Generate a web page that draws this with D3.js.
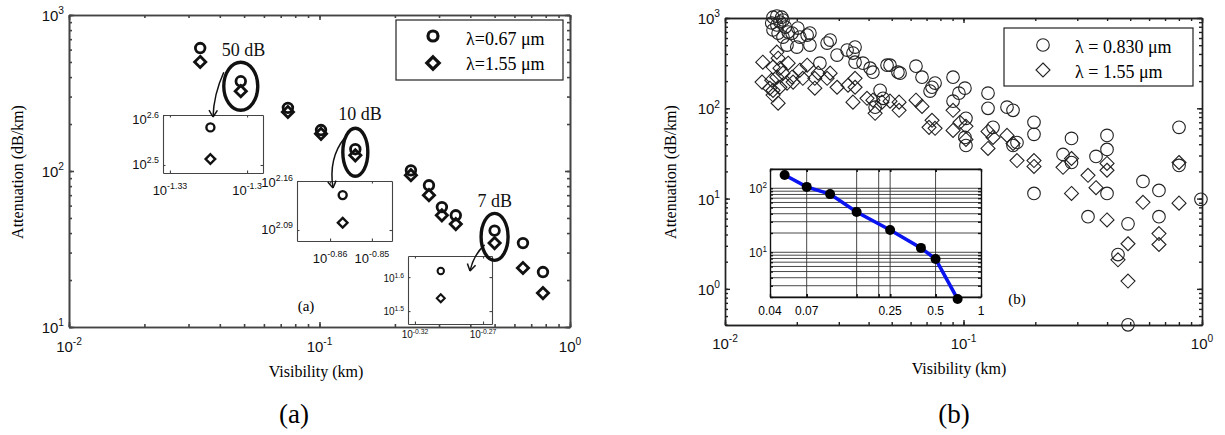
<!DOCTYPE html>
<html lang="en">
<head>
<meta charset="UTF-8">
<title>Attenuation vs visibility</title>
<script src="https://d3js.org/d3.v7.min.js"></script>
<style>
body { margin: 0; background: #fff; }
</style>
</head>
<body>
<div id="chart"></div>
<script>
// ---- panel (a): paired measurements, 0.67 um and 1.55 um
var visA    = [0.0334, 0.0485, 0.0748, 0.1014, 0.139, 0.2317, 0.2735, 0.308, 0.35, 0.5, 0.649, 0.78];
var att067A = [614, 376, 254, 183, 138, 101, 81, 58.7, 52, 41.5, 34.5, 22.5];
var att155A = [500, 325, 239, 173, 126, 94, 70, 52, 45.7, 34.5, 23.9, 16.5];
var calloutIdx   = [1, 4, 9];
var calloutLabel = ["50 dB", "10 dB", "7 dB"];

// ---- panel (b): scattered measurements [visibility km, attenuation dB/km]
var att830B = [
  [0.0159,1020],[0.0165,1050],[0.0173,1020],[0.0175,950],[0.0157,880],[0.0165,836],[0.0170,903],
  [0.0179,794],[0.0159,736],[0.0167,681],[0.0184,699],[0.0191,681],[0.0175,615],[0.0202,774],
  [0.0206,615],[0.0221,647],[0.0227,681],[0.0182,501],[0.0200,476],[0.0227,501],[0.0268,527],
  [0.0276,569],[0.0295,388],[0.0325,441],[0.0351,476],[0.0344,409],[0.0351,324],[0.0379,316],
  [0.0406,278],[0.0417,251],[0.0478,300],[0.025,316],[0.0447,158],[0.046,129],[0.0426,103],
  [0.0492,300],[0.0531,251],[0.0542,245],[0.0632,293],[0.067,221],[0.076,190],[0.0738,171],
  [0.0724,155],[0.0904,221],[0.1014,167],[0.0957,147],[0.0904,120],[0.1267,147],[0.1267,100],
  [0.1522,103],[0.1613,95],[0.1024,77.4],[0.1014,47.6],[0.1024,38.7],[0.133,61.5],[0.1676,41.8],
  [0.1613,38.7],[0.1975,70],[0.1975,51.5],[0.2837,46.4],[0.2614,30.8],[0.2837,25.1],[0.3594,29.3],
  [0.3997,50.1],[0.3997,35],[0.3997,11.4],[0.5656,15.5],[0.66,12.3],[0.801,61.5],[0.801,23.3],
  [0.99,9.8],[0.1975,11.4],[0.3327,6.3],[0.4895,5.25],[0.66,6.3],[0.4444,2.4],[0.4895,0.40]
];
var att155B = [
  [0.0144,324],[0.0165,419],[0.0167,359],[0.0159,286],[0.0170,278],[0.0175,245],[0.0165,221],
  [0.0157,205],[0.0143,195],[0.0159,158],[0.0170,171],[0.0182,190],[0.0191,221],[0.0184,316],
  [0.0159,140],[0.0167,114],[0.0206,264],[0.0221,300],[0.0212,215],[0.0238,215],[0.0238,167],
  [0.0268,215],[0.0276,245],[0.0295,171],[0.0328,180],[0.0351,215],[0.0351,171],[0.0394,129],
  [0.0417,123],[0.0344,117],[0.0426,88],[0.0154,167],[0.0193,195],[0.0246,245],[0.0455,117],
  [0.0492,120],[0.0537,117],[0.0537,95],[0.0632,123],[0.067,105],[0.0738,73.6],[0.0717,61.5],
  [0.076,60],[0.0904,95],[0.0967,70],[0.0904,56.9],[0.1024,63.1],[0.1024,45.2],[0.1267,55.5],
  [0.133,47.6],[0.1267,35.9],[0.1522,50.1],[0.1613,40.8],[0.1676,26.4],[0.1975,26.4],[0.1975,22.7],
  [0.2614,22.2],[0.2837,27.8],[0.2837,11.4],[0.3327,18.1],[0.3594,13.2],[0.3997,24.5],[0.3997,20.6],
  [0.5656,9.1],[0.801,25.1],[0.801,8.9],[0.3997,5.8],[0.4895,3.16],[0.4444,2.1],[0.4895,1.22],
  [0.66,4.1],[0.66,3.1]
];

// ---- inset of panel (b)
var insetVis = [0.05, 0.07, 0.1, 0.15, 0.25, 0.4, 0.5, 0.7];
var insetAtt = [161, 105, 81, 42.6, 22.3, 11.7, 7.85, 1.86];
var insetGridX = [0.07, 0.15, 0.21, 0.25, 0.5];
var insetTickX = [0.04, 0.07, 0.25, 0.5, 1];
var insetTickLabelX = ["0.04", "0.07", "0.25", "0.5", "1"];

var SANS = "'Liberation Sans', Arial, Helvetica, sans-serif";
var SERIF = "'Liberation Serif', 'Times New Roman', Times, serif";

var svg = d3.select("#chart").append("svg")
    .attr("width", 1225).attr("height", 435)
    .style("background", "#fff");

function logMinor(lo, hi) {
  var out = [];
  for (var e = Math.floor(Math.log10(lo)); e <= Math.ceil(Math.log10(hi)); e++) {
    for (var k = 1; k <= 9; k++) {
      var v = k * Math.pow(10, e);
      if (v >= lo * 0.999 && v <= hi * 1.001) out.push(v);
    }
  }
  return out;
}
function decades(lo, hi) {
  return logMinor(lo, hi).filter(function(v) { return Math.abs(Math.log10(v) - Math.round(Math.log10(v))) < 1e-6; });
}

// "10" with a raised exponent
function powText(g, x, y, exp, fs, anchor) {
  var t = g.append("text").attr("x", x).attr("y", y)
      .attr("text-anchor", anchor).attr("font-family", SANS)
      .attr("font-size", fs).attr("fill", "#111");
  t.append("tspan").text("10");
  t.append("tspan").attr("dy", -fs * 0.45).attr("font-size", fs * 0.68).text(exp);
  return t;
}

// box with inward ticks on all four sides
function frame(g, x, y, xt, yt, len, color, width) {
  var x0 = x.range()[0], x1 = x.range()[1], y0 = y.range()[0], y1 = y.range()[1];
  var sides = [
    [d3.axisBottom(x).tickValues(xt), "translate(0," + y0 + ")"],
    [d3.axisTop(x).tickValues(xt), "translate(0," + y1 + ")"],
    [d3.axisLeft(y).tickValues(yt), "translate(" + x0 + ",0)"],
    [d3.axisRight(y).tickValues(yt), "translate(" + x1 + ",0)"]
  ];
  sides.forEach(function(s) {
    var a = g.append("g").attr("transform", s[1])
      .call(s[0].tickSize(-len).tickSizeOuter(0).tickFormat(""));
    a.selectAll("path,line").attr("stroke", color).attr("stroke-width", width);
  });
}

function diamond(r) {
  return "M0," + (-r) + "L" + r + ",0L0," + r + "L" + (-r) + ",0Z";
}

// ================= panel (a) =================
var xa = d3.scaleLog().domain([0.01, 1]).range([69, 570]);
var ya = d3.scaleLog().domain([10, 1000]).range([327, 15]);
var ga = svg.append("g");

frame(ga, xa, ya, logMinor(0.01, 1), logMinor(10, 1000), 3, "#444", 1.6);
frame(ga, xa, ya, decades(0.01, 1), decades(10, 1000), 5, "#444", 1.6);

decades(10, 1000).forEach(function(v) {
  powText(ga, 64, ya(v) + 6, Math.round(Math.log10(v)), 15, "end");
});
decades(0.01, 1).forEach(function(v) {
  powText(ga, xa(v), 352, Math.round(Math.log10(v)), 15, "middle");
});

ga.append("text").attr("transform", "translate(23,172) rotate(-90)")
  .attr("text-anchor", "middle").attr("font-family", SERIF).attr("font-size", 16)
  .text("Attenuation (dB/km)");
ga.append("text").attr("x", 316).attr("y", 377).attr("text-anchor", "middle")
  .attr("font-family", SERIF).attr("font-size", 16).text("Visibility (km)");
ga.append("text").attr("x", 306).attr("y", 311).attr("text-anchor", "middle")
  .attr("font-family", SERIF).attr("font-size", 15).text("(a)");

// markers
ga.selectAll(".c067").data(visA).enter().append("circle")
  .attr("cx", function(d) { return xa(d); })
  .attr("cy", function(d, i) { return ya(att067A[i]); })
  .attr("r", 4.8).attr("fill", "none").attr("stroke", "#111").attr("stroke-width", 2.8);
ga.selectAll(".d155").data(visA).enter().append("path")
  .attr("transform", function(d, i) { return "translate(" + xa(d) + "," + ya(att155A[i]) + ")"; })
  .attr("d", diamond(5.6)).attr("fill", "none").attr("stroke", "#111").attr("stroke-width", 2.8);

// callout ellipses, labels, arrows and zoomed insets
var insets = [
  { box: [163, 115, 263, 173], xd: [-1.3327, -1.2938], yd: [2.484, 2.6], xt: [-1.33, -1.3], yt: [2.5, 2.6],
    fs: 13, xlab: 22, ylabDy: [4, 9], rx: 17, ry: 24, r: 4, sw: 2.4,
    arrow: [[-17, -14], [-10, 22], [213, 117]], lab: [-19, -26] },
  { box: [297, 181, 392, 241], xd: [-0.8679, -0.8452], yd: [2.0743, 2.16], xt: [-0.86, -0.85], yt: [2.09, 2.16],
    fs: 13, xlab: 22, ylabDy: [4, 6], rx: 12.5, ry: 24, r: 4, sw: 2.4,
    arrow: [[-11, -14], [-16, 20], [333, 188]], lab: [-17, -28] },
  { box: [408, 256, 492, 324], xd: [-0.3251, -0.2634], yd: [1.462, 1.662], xt: [-0.32, -0.27], yt: [1.5, 1.6],
    fs: 10, xlab: 14, ylabDy: [4, 5], rx: 13.5, ry: 23.5, r: 3.2, sw: 2,
    arrow: [[-10, 8], [-11, 10], [470, 271]], lab: [-17, -26] }
];

// insets first, so the callout arrows end on top of them
calloutIdx.forEach(function(idx, k) {
  var c = insets[k];
  var b = c.box;
  var xs = d3.scaleLinear().domain(c.xd).range([b[0], b[2]]);
  var ys = d3.scaleLinear().domain(c.yd).range([b[3], b[1]]);
  var gi = ga.append("g");
  gi.append("rect").attr("x", b[0]).attr("y", b[1]).attr("width", b[2] - b[0]).attr("height", b[3] - b[1])
    .attr("fill", "#fff");
  frame(gi, xs, ys, c.xt, c.yt, 2.5, "#444", 1.1);
  c.yt.forEach(function(v, j) {
    powText(gi, b[0] - 4, ys(v) + c.ylabDy[j], String(v), c.fs, "end");
  });
  c.xt.forEach(function(v) {
    powText(gi, xs(v), b[3] + c.xlab, String(v), c.fs, "middle");
  });
  gi.append("circle").attr("cx", xs(Math.log10(visA[idx]))).attr("cy", ys(Math.log10(att067A[idx])))
    .attr("r", c.r).attr("fill", "none").attr("stroke", "#111").attr("stroke-width", c.sw);
  gi.append("path")
    .attr("transform", "translate(" + xs(Math.log10(visA[idx])) + "," + ys(Math.log10(att155A[idx])) + ")")
    .attr("d", diamond(c.r + 0.8)).attr("fill", "none").attr("stroke", "#111").attr("stroke-width", c.sw);
});

calloutIdx.forEach(function(idx, k) {
  var c = insets[k];
  var cx = xa(visA[idx]);
  var cy = (ya(att067A[idx]) + ya(att155A[idx])) / 2;
  ga.append("ellipse").attr("cx", cx).attr("cy", cy).attr("rx", c.rx).attr("ry", c.ry)
    .attr("fill", "none").attr("stroke", "#111").attr("stroke-width", 3.4);
  ga.append("text").attr("x", cx + c.lab[0]).attr("y", cy + c.lab[1] - c.ry + 20)
    .attr("font-family", SERIF).attr("font-size", 18).attr("fill", "#111").text(calloutLabel[k]);

  var sx = cx + c.arrow[0][0], sy = cy + c.arrow[0][1];
  var ex = c.arrow[2][0], ey = c.arrow[2][1];
  var qx = sx + c.arrow[1][0], qy = sy + c.arrow[1][1];
  ga.append("path").attr("d", "M" + sx + "," + sy + "Q" + qx + "," + qy + " " + ex + "," + ey)
    .attr("fill", "none").attr("stroke", "#111").attr("stroke-width", 1.5);
  var ang = Math.atan2(ey - qy, ex - qx);
  [0.55, -0.55].forEach(function(da) {
    ga.append("line").attr("x1", ex).attr("y1", ey)
      .attr("x2", ex - 8 * Math.cos(ang + da)).attr("y2", ey - 8 * Math.sin(ang + da))
      .attr("stroke", "#111").attr("stroke-width", 1.5);
  });
});

// legend (a)
var la = ga.append("g");
la.append("rect").attr("x", 396).attr("y", 20).attr("width", 167).attr("height", 60)
  .attr("fill", "#fff").attr("stroke", "#222").attr("stroke-width", 1.2);
la.append("circle").attr("cx", 433).attr("cy", 36).attr("r", 5)
  .attr("fill", "none").attr("stroke", "#111").attr("stroke-width", 3.2);
la.append("path").attr("transform", "translate(433,63)").attr("d", diamond(6.2))
  .attr("fill", "none").attr("stroke", "#111").attr("stroke-width", 3.2);
la.append("text").attr("x", 466).attr("y", 45).attr("font-family", SERIF).attr("font-size", 18).text("λ=0.67 μm");
la.append("text").attr("x", 466).attr("y", 70).attr("font-family", SERIF).attr("font-size", 18).text("λ=1.55 μm");

// ================= panel (b) =================
var xb = d3.scaleLog().domain([0.01, 1]).range([725, 1202]);
var yb = d3.scaleLog().domain([0.398, 1000]).range([325, 18]);
var gb = svg.append("g");

frame(gb, xb, yb, logMinor(0.01, 1), logMinor(0.398, 1000), 3, "#222", 1.4);
frame(gb, xb, yb, decades(0.01, 1), decades(0.398, 1000), 5, "#222", 1.4);

decades(0.398, 1000).forEach(function(v) {
  powText(gb, 720, yb(v) + 6, Math.round(Math.log10(v)), 15, "end");
});
decades(0.01, 1).forEach(function(v) {
  powText(gb, xb(v), 349, Math.round(Math.log10(v)), 15, "middle");
});
gb.append("text").attr("transform", "translate(676,172) rotate(-90)")
  .attr("text-anchor", "middle").attr("font-family", SERIF).attr("font-size", 16)
  .text("Attenuation (dB/km)");
gb.append("text").attr("x", 959).attr("y", 374).attr("text-anchor", "middle")
  .attr("font-family", SERIF).attr("font-size", 16).text("Visibility (km)");
gb.append("text").attr("x", 1017).attr("y", 304).attr("text-anchor", "middle")
  .attr("font-family", SERIF).attr("font-size", 15).text("(b)");

gb.selectAll(".bc").data(att830B).enter().append("circle")
  .attr("cx", function(d) { return xb(d[0]); })
  .attr("cy", function(d) { return yb(d[1]); })
  .attr("r", 6.3).attr("fill", "none").attr("stroke", "#222").attr("stroke-width", 1.1);
gb.selectAll(".bd").data(att155B).enter().append("path")
  .attr("transform", function(d) { return "translate(" + xb(d[0]) + "," + yb(d[1]) + ")"; })
  .attr("d", diamond(7)).attr("fill", "none").attr("stroke", "#222").attr("stroke-width", 1.1);

// legend (b)
var lb = gb.append("g");
lb.append("rect").attr("x", 1004).attr("y", 28).attr("width", 189).attr("height", 58)
  .attr("fill", "#fff").attr("stroke", "#222").attr("stroke-width", 1.2);
lb.append("circle").attr("cx", 1043).attr("cy", 45).attr("r", 6.3)
  .attr("fill", "none").attr("stroke", "#222").attr("stroke-width", 1.1);
lb.append("path").attr("transform", "translate(1043,70)").attr("d", diamond(7))
  .attr("fill", "none").attr("stroke", "#222").attr("stroke-width", 1.1);
lb.append("text").attr("x", 1075).attr("y", 53).attr("font-family", SERIF).attr("font-size", 18).text("λ = 0.830 μm");
lb.append("text").attr("x", 1075).attr("y", 78).attr("font-family", SERIF).attr("font-size", 18).text("λ = 1.55 μm");

// inset (b)
var xi = d3.scaleLog().domain([0.04, 1]).range([770, 981]);
var yi = d3.scaleLog().domain([2, 200]).range([297, 169]);
var gin = gb.append("g");
gin.append("rect").attr("x", 770).attr("y", 169).attr("width", 211).attr("height", 128).attr("fill", "#fff");
gin.selectAll(".hg").data(logMinor(2, 200)).enter().append("line")
  .attr("x1", 770).attr("x2", 981)
  .attr("y1", function(d) { return yi(d); }).attr("y2", function(d) { return yi(d); })
  .attr("stroke", "#333").attr("stroke-width", 0.9);
gin.selectAll(".vg").data(insetGridX).enter().append("line")
  .attr("y1", 169).attr("y2", 297)
  .attr("x1", function(d) { return xi(d); }).attr("x2", function(d) { return xi(d); })
  .attr("stroke", "#333").attr("stroke-width", 0.9);
frame(gin, xi, yi, insetTickX.concat(insetGridX), logMinor(2, 200), 3, "#111", 1.4);
insetTickX.forEach(function(v, i) {
  gin.append("text").attr("x", xi(v)).attr("y", 315).attr("text-anchor", "middle")
    .attr("font-family", SANS).attr("font-size", 12).text(insetTickLabelX[i]);
});
[10, 100].forEach(function(v) {
  powText(gin, 767, yi(v) + 5, Math.round(Math.log10(v)), 12, "end");
});
var line = d3.line().x(function(d) { return xi(d); }).y(function(d, i) { return yi(insetAtt[i]); });
gin.append("path").datum(insetVis).attr("d", line)
  .attr("fill", "none").attr("stroke", "#0a14f0").attr("stroke-width", 3.6);
gin.selectAll(".pt").data(insetVis).enter().append("circle")
  .attr("cx", function(d) { return xi(d); })
  .attr("cy", function(d, i) { return yi(insetAtt[i]); })
  .attr("r", 5).attr("fill", "#000");

// captions
svg.append("text").attr("x", 294).attr("y", 423).attr("text-anchor", "middle")
  .attr("font-family", SERIF).attr("font-size", 27).text("(a)");
svg.append("text").attr("x", 954).attr("y", 423).attr("text-anchor", "middle")
  .attr("font-family", SERIF).attr("font-size", 27).text("(b)");
</script>
</body>
</html>
